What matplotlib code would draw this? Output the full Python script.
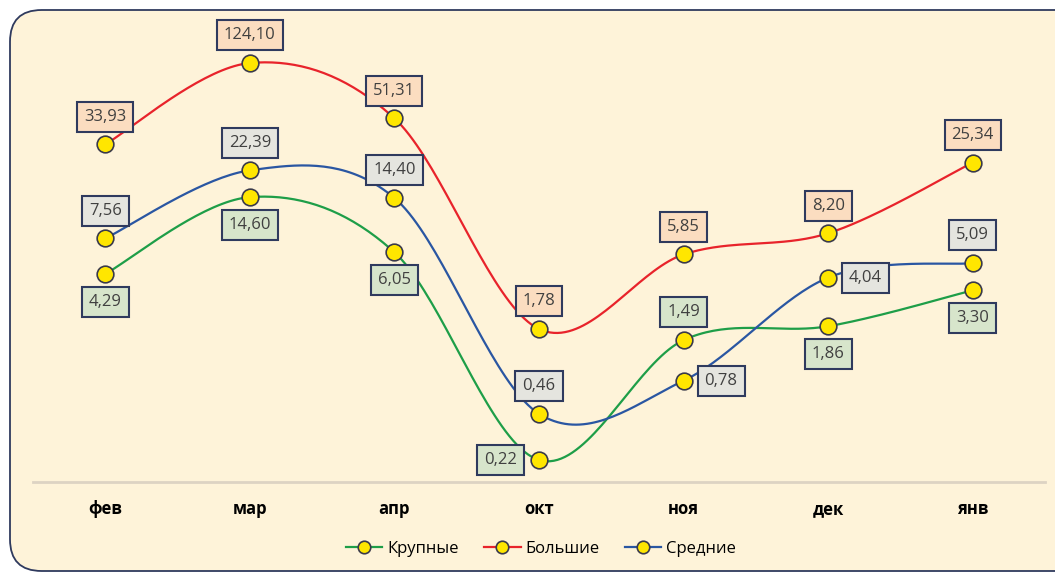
import numpy as np
import matplotlib
matplotlib.use("Agg")
import matplotlib.pyplot as plt
from matplotlib.patches import FancyBboxPatch
from matplotlib.lines import Line2D

months = ["фев", "мар", "апр", "окт", "ноя", "дек", "янв"]
krupnye = [4.29, 14.60, 6.05, 0.22, 1.49, 1.86, 3.30]
bolshie = [33.93, 124.10, 51.31, 1.78, 5.85, 8.20, 25.34]
srednie = [7.56, 22.39, 14.40, 0.46, 0.78, 4.04, 5.09]

# where each value label sits relative to its marker
krupnye_pos = ["below", "below", "below", "left", "above", "below", "below"]
bolshie_pos = ["above"] * 7
srednie_pos = ["above", "above", "above", "above", "right", "right", "above"]

BG = "#FEF3D9"
EDGE = "#2F3A5E"
TEXT = "#404040"

plt.rcParams["font.family"] = ["Open Sans", "DejaVu Sans"]


def smooth(xs, ys, n=40):
    """Excel-style smoothed line: cubic Bezier with Catmull-Rom control points."""
    p = np.column_stack([xs, ys]).astype(float)
    p_ext = np.vstack([p[0], p, p[-1]])
    out = []
    t = np.linspace(0, 1, n)[:, None]
    for i in range(len(p) - 1):
        p0, p3 = p[i], p[i + 1]
        c1 = p0 + (p_ext[i + 2] - p_ext[i]) / 6
        c2 = p3 - (p_ext[i + 3] - p_ext[i + 1]) / 6
        seg = ((1 - t) ** 3) * p0 + 3 * ((1 - t) ** 2) * t * c1 \
            + 3 * (1 - t) * t ** 2 * c2 + t ** 3 * p3
        out.append(seg if i == 0 else seg[1:])
    out = np.vstack(out)
    return out[:, 0], out[:, 1]


fig = plt.figure(figsize=(10.55, 5.75), dpi=100)
fig.patch.set_facecolor("white")

W, H = 1055, 575
frame = FancyBboxPatch((10 / W, 4 / H), 1.2, 561 / H,
                       boxstyle="round,pad=0,rounding_size=0.03",
                       transform=fig.transFigure, facecolor=BG,
                       edgecolor=EDGE, linewidth=1.3, mutation_aspect=W / H,
                       zorder=-5)
fig.patches.append(frame)

ax = fig.add_axes([33 / W, (H - 482) / H, (1045 - 33) / W, (482 - 20) / H])
ax.set_zorder(1)
ax.set_facecolor("none")
ax.set_yscale("log")
ax.set_ylim(10 ** -0.81, 10 ** 2.392)
ax.set_xlim(-0.5, len(months) - 0.5)
for s in ["top", "right", "left"]:
    ax.spines[s].set_visible(False)
ax.spines["bottom"].set_color("#DDD3C3")
ax.spines["bottom"].set_linewidth(2)
ax.set_yticks([])
ax.yaxis.set_minor_locator(matplotlib.ticker.NullLocator())
ax.set_xticks(range(len(months)))
ax.set_xticklabels(months, fontweight="bold", fontsize=12, color="black")
ax.tick_params(axis="x", length=0, pad=13)

series = [
    ("Крупные", krupnye, krupnye_pos, "#1E9E48", "#D7E5CB"),
    ("Большие", bolshie, bolshie_pos, "#E8232B", "#FBDDC0"),
    ("Средние", srednie, srednie_pos, "#2A56A2", "#E5E5DF"),
]

offsets = {"above": (0, 20), "below": (0, -20), "left": (-28, 0), "right": (27, 0)}
x = np.arange(len(months))

for name, vals, pos, color, fill in series:
    sx, sy = smooth(x, np.log10(vals))
    ax.plot(sx, 10 ** sy, color=color, lw=1.6, zorder=2)
    ax.plot(x, vals, ls="none", marker="o", ms=12, mfc="#FFE600",
            mec="#3A3A4A", mew=1.2, zorder=3)
    for xi, v, p in zip(x, vals, pos):
        ax.annotate(f"{v:.2f}".replace(".", ","), (xi, v),
                    xytext=offsets[p], textcoords="offset points",
                    ha="center", va="center", fontsize=12, color=TEXT,
                    bbox=dict(boxstyle="square,pad=0.42", fc=fill,
                              ec=EDGE, lw=1.5), zorder=4)

handles = [Line2D([], [], color=c, lw=1.6, marker="o", ms=9, mfc="#FFE600",
                  mec="#3A3A4A", mew=1.2) for _, _, _, c, _ in series]
fig.legend(handles, [s[0] for s in series], loc="center",
           bbox_to_anchor=(541 / W, 1 - 549 / H), ncol=3, frameon=False,
           fontsize=12, handlelength=2.2, columnspacing=1.5,
           handletextpad=0.3)

fig.savefig("out.png", dpi=100, facecolor=fig.get_facecolor())
